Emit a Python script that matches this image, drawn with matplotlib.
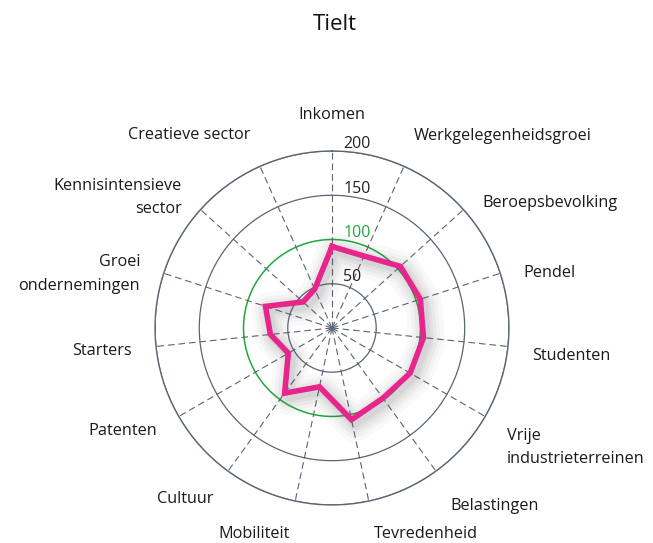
import numpy as np
import matplotlib
matplotlib.use('Agg')
from matplotlib import pyplot as plt
from matplotlib.transforms import ScaledTranslation

plt.rcParams['font.family'] = ['Open Sans', 'DejaVu Sans']

title = 'Tielt'
categories = ['Inkomen', 'Werkgelegenheidsgroei', 'Beroepsbevolking', 'Pendel',
              'Studenten', 'Vrije\nindustrieterreinen', 'Belastingen', 'Tevredenheid',
              'Mobiliteit', 'Cultuur', 'Patenten', 'Starters', 'Groei\nondernemingen',
              'Kennisintensieve\nsector', 'Creatieve sector']
values = [92, 89, 104, 105, 104, 102, 98, 106, 68, 91, 57, 70, 79, 44, 48]
rings = [50, 150, 200]
reference = 100
rmax = 200

# small vertical nudges (pixels, down positive) so the labels sit like the original
label_nudge = [3, 0, -15, -10, -6, -3, -8, -1, -1, -1, 2, -1, 1, 2, 1]

grid_col = '#5b6573'
line_col = '#e8258a'
ref_col = '#20a83c'

n = len(categories)
theta = np.arange(n) * 2 * np.pi / n

fig = plt.figure(figsize=(6.53, 5.43), dpi=100)
ax = fig.add_axes([0.2374, 0.070, 0.542, 0.652], projection='polar')
ax.set_theta_zero_location('N')
ax.set_theta_direction(-1)
ax.set_ylim(0, rmax)
ax.grid(False)
ax.set_xticks([])
ax.set_yticks([])
ax.spines['polar'].set_color(grid_col)
ax.spines['polar'].set_linewidth(1.0)

circ = np.linspace(0, 2 * np.pi, 400)
for r in rings:
    ax.plot(circ, [r] * len(circ), color=grid_col, lw=0.9)
ax.plot(circ, [reference] * len(circ), color=ref_col, lw=1.1)

for t in theta:
    ax.plot([t, t], [0, rmax], color=grid_col, lw=0.8, linestyle=(0, (6, 3.5)))

# soft shadow under the series line
tt = np.append(theta, theta[0])
vv = np.append(values, values[0])
shift = ax.transData + ScaledTranslation(2.5 / 72, -3 / 72, fig.dpi_scale_trans)
for w, a in [(26, 0.03), (20, 0.04), (15, 0.05), (10, 0.06), (6, 0.07)]:
    ax.plot(tt, vv, color='#50505a', lw=w, alpha=a, transform=shift,
            solid_joinstyle='round', solid_capstyle='round')
ax.plot(tt, vv, color=line_col, lw=4, solid_joinstyle='miter')

for r in rings + [reference]:
    ax.annotate(str(r), xy=(0, r), xytext=(8, -1), textcoords='offset points',
                ha='left', va='bottom', fontsize=11.5,
                color=ref_col if r == reference else '#222222')

lab_r = 228
for t, lab, nudge in zip(theta, categories, label_nudge):
    s = np.sin(t)
    if abs(s) < 0.05:
        ha = 'center'
    elif s > 0:
        ha = 'left'
    else:
        ha = 'right'
    dy = 5.8 * np.cos(t) + nudge * 0.72
    for i, line in enumerate(lab.split('\n')):
        ax.annotate(line, xy=(t, lab_r), xytext=(0, dy - i * 17.0),
                    textcoords='offset points', ha=ha, va='center',
                    fontsize=11.7, color='#1a1a1a', annotation_clip=False)

fig.text(0.513, 0.955, title, ha='center', va='center', fontsize=16, color='#111111')

fig.savefig('out.png', dpi=100)
